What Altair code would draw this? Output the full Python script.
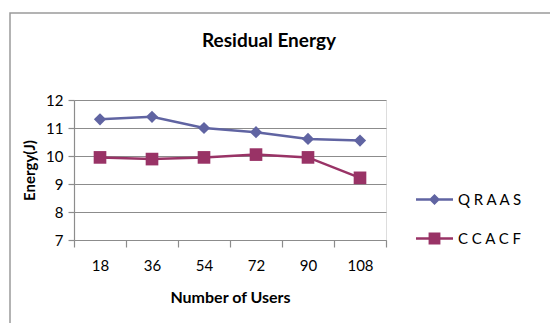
import altair as alt
import pandas as pd

users = ["18", "36", "54", "72", "90", "108"]
qraas = [11.31, 11.40, 11.00, 10.85, 10.61, 10.55]
ccacf = [9.95, 9.89, 9.95, 10.05, 9.95, 9.22]
series_names = ["QRAAS", "CCACF"]
series_colors = ["#6064A2", "#993366"]

rows = []
for u, q, c in zip(users, qraas, ccacf):
    rows.append({"users": u, "energy": q, "series": "QRAAS"})
    rows.append({"users": u, "energy": c, "series": "CCACF"})
df = pd.DataFrame(rows)

FONT = "Lato"
GRAY = "#8C8C8C"

path_q = "M-1,-0.07H1V0.07H-1Z M0,-0.3L0.3,0L0,0.3L-0.3,0Z"
path_c = "M-1,-0.07H1V0.07H-1Z M-0.32,-0.32H0.32V0.32H-0.32Z"

x_enc = alt.X(
    "users:O",
    sort=users,
    scale=alt.Scale(type="band", paddingInner=0, paddingOuter=0),
    axis=alt.Axis(
        title="Number of Users",
        titleFont=FONT, titleFontSize=16, titleFontWeight="bold", titleColor="#000",
        titlePadding=16,
        labelFont=FONT, labelFontSize=15, labelColor="#000", labelAngle=0,
        labelPadding=11,
        tickBand="extent", tickSize=7, tickColor=GRAY, tickWidth=1.2,
        domainColor=GRAY, domainWidth=1.2, grid=False,
    ),
)
y_enc = alt.Y(
    "energy:Q",
    scale=alt.Scale(domain=[7, 12], nice=False, zero=False),
    axis=alt.Axis(
        title="Energy(J)",
        titleFont=FONT, titleFontSize=15, titleFontWeight="bold", titleColor="#000",
        titlePadding=8,
        labelFont=FONT, labelFontSize=15, labelColor="#000", labelPadding=5,
        values=[7, 8, 9, 10, 11, 12],
        tickSize=6, tickColor=GRAY, tickWidth=1.2,
        domainColor=GRAY, domainWidth=1.2,
        grid=True, gridColor=GRAY, gridWidth=1.2,
    ),
)

base = alt.Chart(df)


def series_layers(name, color, shape, size):
    sub = base.transform_filter(alt.datum.series == name)
    line = sub.mark_line(strokeWidth=2.5, color=color).encode(x=x_enc, y=y_enc)
    pts = sub.mark_point(shape=shape, filled=True, size=size, opacity=1, color=color).encode(
        x=x_enc, y=y_enc
    )
    return line, pts


lq, pq = series_layers("QRAAS", series_colors[0], "diamond", 150)
lc, pc = series_layers("CCACF", series_colors[1], "square", 160)

leg = alt.Legend(
    orient="none", legendX=342, legendY=81, title=None,
    symbolSize=1369, symbolStrokeWidth=0,
    labelFont=FONT, labelFontSize=15, labelColor="#000", labelOffset=5,
    rowPadding=12, padding=0,
    labelExpr="join(split(datum.label, ''), ' ')",
)

legend_layer = base.transform_filter("false").mark_point(
    filled=True, opacity=1, strokeWidth=0
).encode(
    x=x_enc, y=y_enc,
    color=alt.Color("series:N", scale=alt.Scale(domain=series_names, range=series_colors), legend=leg),
    shape=alt.Shape("series:N", scale=alt.Scale(domain=series_names, range=[path_q, path_c]), legend=leg),
)

border = alt.Chart(pd.DataFrame({"a": [0]})).mark_rect(
    filled=False, stroke="#9A9A9A", strokeWidth=1.5
).encode(
    x=alt.value(-64), x2=alt.value(600), y=alt.value(-87), y2=alt.value(400)
)

chart = alt.layer(border, lc, lq, pc, pq, legend_layer).properties(
    width=312,
    height=140,
    title=alt.TitleParams(
        "Residual Energy", font=FONT, fontSize=19, fontWeight="bold", color="#000",
        anchor="middle", frame="group", dx=39, offset=-54, baseline="alphabetic",
    ),
    autosize=alt.AutoSizeParams(type="none"),
    padding={"left": 74, "top": 100, "right": 164, "bottom": 83},
).configure_view(stroke=None).configure(background="white")

chart.save("out.html", embed_options={"renderer": "svg", "actions": False})
